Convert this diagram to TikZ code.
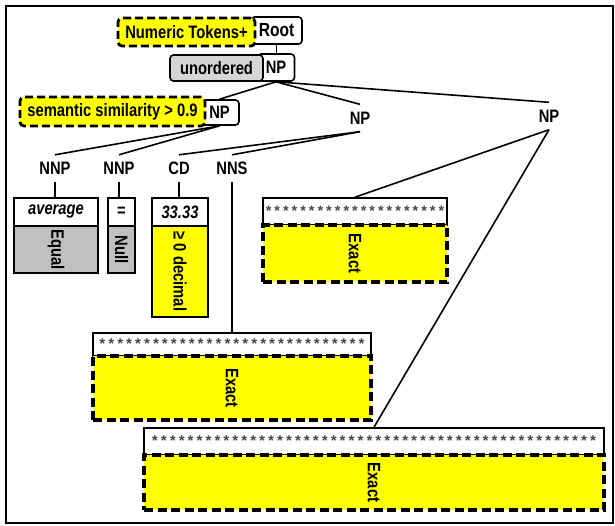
\documentclass[tikz,border=0pt]{standalone}
\usepackage{fontspec}
\usepackage{graphicx}
\newfontfamily\lbf{Liberation Sans}[FakeStretch=0.82]
\newfontfamily\stf{Liberation Mono}
\definecolor{ylw}{RGB}{255,255,0}
\definecolor{gry}{RGB}{192,192,192}
\definecolor{lgry}{RGB}{214,214,214}
\definecolor{stc}{RGB}{70,70,70}
\newcommand{\lbtext}{\lbf\bfseries\fontsize{18}{18}\selectfont}
\newcommand{\sttext}[1]{\stf\bfseries\fontsize{#1}{#1}\selectfont\color{stc}}
\tikzset{
  lbl/.style={font=\lbtext, inner sep=0pt, minimum height=27pt},
  tbox/.style={draw, line width=1.6pt, rounded corners=3.5pt, fill=white, inner sep=0pt, font=\lbtext},
  ybox/.style={draw, line width=2.8pt, dash pattern=on 8pt off 4pt, rounded corners=4pt, fill=ylw, inner sep=0pt, font=\lbtext},
  gbox/.style={draw, line width=1.6pt, rounded corners=3.5pt, fill=lgry, inner sep=0pt, font=\lbtext},
  wleaf/.style={draw, line width=1.6pt, fill=white, inner sep=0pt, font=\lbtext},
  gleaf/.style={draw, line width=1.6pt, fill=gry, inner sep=0pt, font=\lbtext},
  yleaf/.style={draw, line width=1.6pt, fill=ylw, inner sep=0pt, font=\lbtext},
  ydleaf/.style={draw, line width=3.2pt, dash pattern=on 9pt off 4.5pt, fill=ylw, inner sep=0pt, font=\lbtext},
  conn/.style={line width=1.6pt},
}
\begin{document}
\begin{tikzpicture}[x=1pt,y=-1pt]
\useasboundingbox (0,0) rectangle (615,525);
\draw[line width=2pt] (5.5,5.5) rectangle (613,523);

% top labels
\node[tbox, minimum width=51pt, minimum height=27pt, font=\lbtext\fontsize{19}{19}\selectfont] (root) at (276.5,30.5) {Root};
\node[ybox, minimum width=137pt, minimum height=28pt] (nt) at (186.5,32) {Numeric Tokens+};
\node[tbox, minimum width=37pt, minimum height=27pt] (np1) at (276,67.5) {NP};
\node[gbox, minimum width=93pt, minimum height=26pt] (uo) at (216.5,68) {unordered};
\node[tbox, minimum width=39pt, minimum height=25pt] (np2) at (219.5,112.5) {NP};
\node[ybox, minimum width=185pt, minimum height=29pt] (ss) at (112.5,111.5) {semantic similarity > 0.9};
\node[lbl] (np3) at (360,118) {NP};
\node[lbl] (np4) at (549,116) {NP};

% POS tags
\node[lbl] (nnp1) at (55,168.5) {NNP};
\node[lbl] (nnp2) at (119,168.5) {NNP};
\node[lbl] (cd) at (179,168.5) {CD};
\node[lbl] (nns) at (232,168.5) {NNS};

% leaves
\node[wleaf, minimum width=84pt, minimum height=28pt] (avg) at (56,212) {\itshape average};
\node[gleaf, minimum width=84pt, minimum height=47pt] (eql) at (56,249.5) {\rotatebox{-90}{Equal}};
\node[wleaf, minimum width=27pt, minimum height=28pt] (eq) at (121.5,212) {=};
\node[gleaf, minimum width=27pt, minimum height=47pt] (nul) at (121.5,249.5) {\rotatebox{-90}{Null}};
\node[wleaf, minimum width=56pt, minimum height=28pt] (num) at (180,212) {\itshape 33.33};
\node[yleaf, minimum width=56pt, minimum height=91pt] (dec) at (180,271.5) {\rotatebox{-90}{≥ 0 decimal}};

\node[wleaf, minimum width=184pt, minimum height=27pt] (s1) at (355,211.5) {\sttext{14.4}*********************};
\node[ydleaf, minimum width=184pt, minimum height=57pt] (e1) at (355,253.5) {\rotatebox{-90}{Exact}};
\node[wleaf, minimum width=278pt, minimum height=23pt] (s2) at (232,344.5) {\sttext{14.9}******************************};
\node[ydleaf, minimum width=278pt, minimum height=64pt] (e2) at (232,388) {\rotatebox{-90}{Exact}};
\node[wleaf, minimum width=460pt, minimum height=27pt] (s3) at (374,441.5) {\sttext{14.9}**************************************************};
\node[ydleaf, minimum width=460pt, minimum height=55pt] (e3) at (374,482.5) {\rotatebox{-90}{Exact}};

% connectors
\draw[conn] (root.south) -- (root.south |- np1.north);
\draw[conn] (np1.south) -- (np2.north);
\draw[conn] (np1.south) -- (np3.north);
\draw[conn] (np1.south) -- (np4.north);
\draw[conn] (np2.south) -- (nnp1.north);
\draw[conn] (np2.south) -- (nnp2.north);
\draw[conn] (np3.south) -- (cd.north);
\draw[conn] (np3.south) -- (nns.north);
\draw[conn] (np4.south) -- (s1.north);
\draw[conn] (np4.south) -- (s3.north);
\draw[conn] (nnp1.south) -- (nnp1.south |- avg.north);
\draw[conn] (nnp2.south) -- (nnp2.south |- eq.north);
\draw[conn] (cd.south) -- (cd.south |- num.north);
\draw[conn] (nns.south) -- (s2.north);
\end{tikzpicture}
\end{document}
